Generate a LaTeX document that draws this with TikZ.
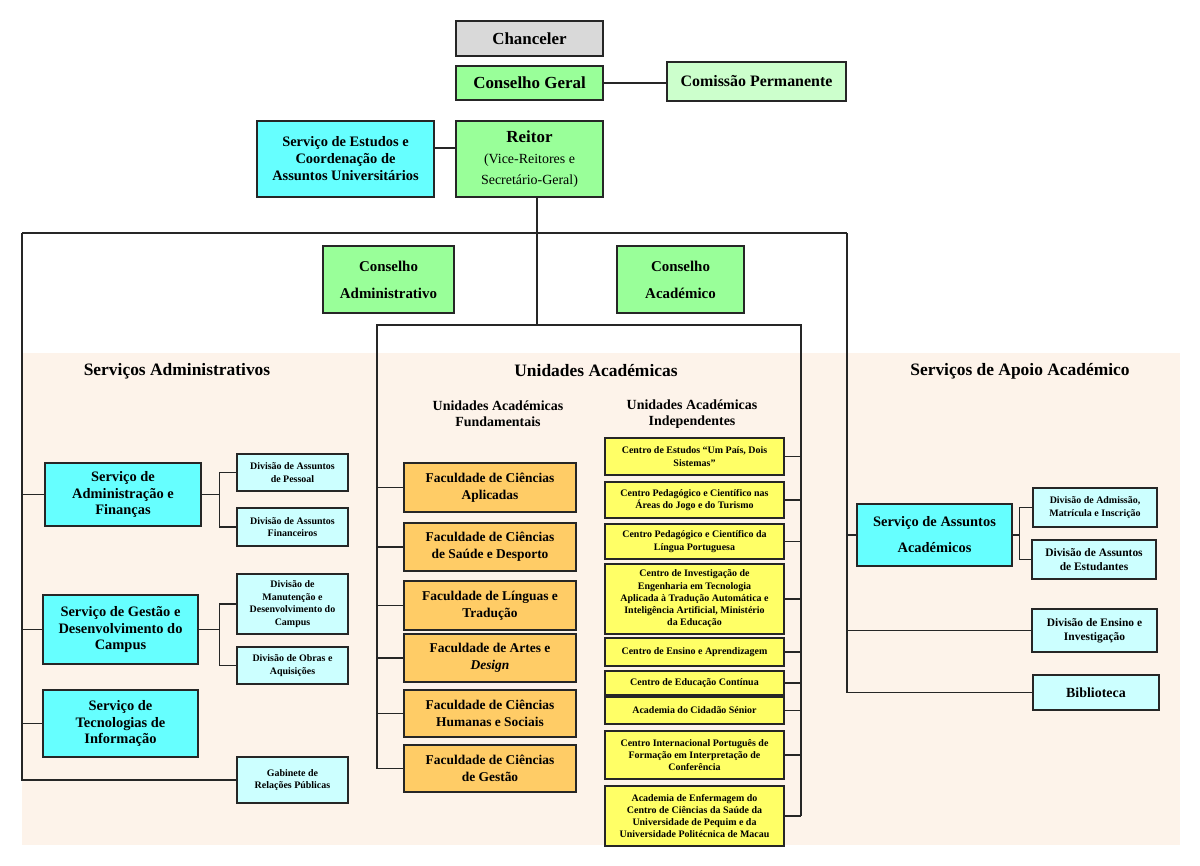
\documentclass[tikz,border=0pt]{standalone}
\usepackage{fontspec}
\setmainfont{Liberation Serif}

\definecolor{chancgray}{HTML}{D9D9D9}
\definecolor{govgreen}{HTML}{99FF99}
\definecolor{permgreen}{HTML}{CCFFCC}
\definecolor{svccyan}{HTML}{66FFFF}
\definecolor{divcyan}{HTML}{CCFFFF}
\definecolor{facorange}{HTML}{FFCC66}
\definecolor{ctryellow}{HTML}{FFFF66}
\definecolor{bgpeach}{HTML}{FDF3EA}

\tikzstyle{block} = [draw=black!85, rectangle, line width=1.5bp, align=center, inner sep=1bp]
\tikzstyle{gov} = [block, fill=govgreen, font=\bfseries\fontsize{17}{21}\selectfont]
\tikzstyle{svc} = [block, fill=svccyan, font=\bfseries\fontsize{14.5}{17}\selectfont]
\tikzstyle{div} = [block, fill=divcyan, font=\bfseries\fontsize{10}{12.5}\selectfont]
\tikzstyle{fac} = [block, fill=facorange, minimum width=172bp, font=\bfseries\fontsize{13.5}{17}\selectfont]
\tikzstyle{ctr} = [block, fill=ctryellow, minimum width=179bp, font=\bfseries\fontsize{10}{12.3}\selectfont]
\tikzstyle{title} = [align=center, font=\bfseries\fontsize{17.5}{21}\selectfont]
\tikzstyle{subtitle} = [align=center, font=\bfseries\fontsize{14}{16.5}\selectfont]
\tikzstyle{line} = [draw=black!85, line width=1.3bp]

\begin{document}
\begin{tikzpicture}[x=1bp, y=-1bp]
\useasboundingbox (0,0) rectangle (1200,866);
\fill [bgpeach] (22,353) rectangle (1180,845);

% top of the chart
\node [gov, fill=chancgray, minimum width=147bp, minimum height=35bp, name=chanc] at (529.5,38.5) {Chanceler};
\node [gov, minimum width=147bp, minimum height=34bp, name=cgeral] at (529.5,83) {Conselho Geral};
\node [gov, fill=permgreen, minimum width=179bp, minimum height=39bp, name=cperm,
  font=\bfseries\fontsize{16}{19}\selectfont] at (756.5,81.5) {Comissão Permanente};
\node [gov, minimum width=147bp, minimum height=76bp, name=reitor] at (529.5,159)
  {Reitor\\{\normalfont\fontsize{14}{21}\selectfont (Vice-Reitores e}\\{\normalfont\fontsize{14}{21}\selectfont Secretário-Geral)}};
\node [svc, minimum width=177bp, minimum height=76bp, name=sestudos] at (345.5,159)
  {Serviço de Estudos e\\Coordenação de\\Assuntos Universitários};
\node [gov, minimum width=131bp, minimum height=67bp, name=cadmin,
  font=\bfseries\fontsize{15}{27}\selectfont] at (388.5,279.5) {Conselho\\Administrativo};
\node [gov, minimum width=127bp, minimum height=67bp, name=cacad,
  font=\bfseries\fontsize{15}{27}\selectfont] at (680.5,279.5) {Conselho\\Académico};

\coordinate (rs) at (0,148);
\draw [line] (cgeral.east) -- (cgeral.east -| cperm.west);
\draw [line] (sestudos.east |- rs) -- (reitor.west |- rs);

% spine
\coordinate (tl) at (22,233);
\coordinate (tr) at (847,233);
\coordinate (ul) at (377,325);
\coordinate (ua) at (537,325);
\coordinate (ur) at (801,325);
\draw [line] (tl) -- (tr);
\draw [line] (reitor.south -| ua) -- (ua);

% section titles
\node [title, name=tadm] at (177,371) {Serviços Administrativos};
\node [title, name=tuni] at (596,371) {Unidades Académicas};
\node [title, name=tapo] at (1020,371) {Serviços de Apoio Académico};
\node [subtitle, name=tfun] at (498,414) {Unidades Académicas\\Fundamentais};
\node [subtitle, name=tind] at (692,414) {Unidades Académicas\\Independentes};

% Servicos Administrativos
\node [svc, minimum width=156bp, minimum height=63bp, name=saf] at (123,494.5) {Serviço de\\Administração e\\Finanças};
\node [div, minimum width=111bp, minimum height=37bp, name=dap] at (292.5,472.5) {Divisão de Assuntos\\de Pessoal};
\node [div, minimum width=111bp, minimum height=38bp, name=daf] at (292.5,527) {Divisão de Assuntos\\Financeiros};
\node [svc, minimum width=155bp, minimum height=69bp, name=sgdc] at (120.5,629.5) {Serviço de Gestão e\\Desenvolvimento do\\Campus};
\node [div, minimum width=111bp, minimum height=60bp, name=dmdc] at (292.5,604) {Divisão de\\Manutenção e\\Desenvolvimento do\\Campus};
\node [div, minimum width=111bp, minimum height=37bp, name=doa] at (292.5,665.5) {Divisão de Obras e\\Aquisições};
\node [svc, minimum width=155bp, minimum height=67bp, name=sti] at (120.5,723.5) {Serviço de\\Tecnologias de\\Informação};
\node [div, minimum width=111bp, minimum height=46bp, name=grp] at (292.5,780) {Gabinete de\\Relações Públicas};

\draw [line] (tl) |- (grp.west);
\foreach \s in {saf,sgdc,sti}
  \draw [line] (\s.west -| tl) -- (\s.west);
\coordinate (kaf) at ([xshift=18bp]saf.east);
\coordinate (kgd) at ([xshift=21bp]sgdc.east);
\draw [line] (saf.east) -- (kaf);
\draw [line] (dap.west) -| (kaf) |- (daf.west);
\draw [line] (sgdc.east) -- (kgd);
\draw [line] (dmdc.west) -| (kgd) |- (doa.west);

% Unidades Academicas
\node [fac, minimum height=49bp, name=fca] at (490,487.5) {Faculdade de Ciências\\Aplicadas};
\node [fac, minimum height=48bp, name=fcsd] at (490,547) {Faculdade de Ciências\\de Saúde e Desporto};
\node [fac, minimum height=49bp, name=flt] at (490,605.5) {Faculdade de Línguas e\\Tradução};
\node [fac, minimum height=48bp, name=fad] at (490,658) {Faculdade de Artes e\\\textit{Design}};
\node [fac, minimum height=47bp, name=fchs] at (490,713.5) {Faculdade de Ciências\\Humanas e Sociais};
\node [fac, minimum height=47bp, name=fcg] at (490,768.5) {Faculdade de Ciências\\de Gestão};

\node [ctr, minimum height=37bp, name=c1] at (694.5,456.5) {Centro de Estudos “Um País, Dois\\Sistemas”};
\node [ctr, minimum height=36bp, name=c2] at (694.5,500) {Centro Pedagógico e Científico nas\\Áreas do Jogo e do Turismo};
\node [ctr, minimum height=35bp, name=c3] at (694.5,541.5) {Centro Pedagógico e Científico da\\Língua Portuguesa};
\node [ctr, minimum height=70bp, name=c4] at (694.5,599) {Centro de Investigação de\\Engenharia em Tecnologia\\Aplicada à Tradução Automática e\\Inteligência Artificial, Ministério\\da Educação};
\node [ctr, minimum height=28bp, name=c5] at (694.5,652) {Centro de Ensino e Aprendizagem};
\node [ctr, minimum height=24bp, name=c6] at (694.5,683) {Centro de Educação Contínua};
\node [ctr, minimum height=27bp, name=c7] at (694.5,710.5) {Academia do Cidadão Sénior};
\node [ctr, minimum height=48bp, name=c8] at (694.5,755) {Centro Internacional Português de\\Formação em Interpretação de\\Conferência};
\node [ctr, minimum height=60bp, name=c9] at (694.5,816) {Academia de Enfermagem do\\Centro de Ciências da Saúde da\\Universidade de Pequim e da\\Universidade Politécnica de Macau};

\draw [line] (fcg.west -| ul) -- (ul) -- (ur) -- (ur |- c9.east);
\foreach \f in {fca,fcsd,flt,fad,fchs,fcg}
  \draw [line] (\f.west -| ul) -- (\f.west);
\foreach \c in {c1,c2,c3,c4,c5,c6,c7,c8,c9}
  \draw [line] (\c.east) -- (\c.east -| ur);

% Servicos de Apoio Academico
\node [svc, minimum width=155bp, minimum height=62bp, name=saa,
  font=\bfseries\fontsize{14.5}{26}\selectfont] at (934.5,535) {Serviço de Assuntos\\Académicos};
\node [div, minimum width=124bp, minimum height=39bp, name=dami] at (1095,507.5) {Divisão de Admissão,\\Matrícula e Inscrição};
\node [div, minimum width=124bp, minimum height=39bp, name=dae,
  font=\bfseries\fontsize{11.5}{14}\selectfont] at (1094,559.5) {Divisão de Assuntos\\de Estudantes};
\node [div, minimum width=125bp, minimum height=43bp, name=dei,
  font=\bfseries\fontsize{11.5}{14}\selectfont] at (1094.5,630.5) {Divisão de Ensino e\\Investigação};
\node [div, minimum width=126bp, minimum height=35bp, name=bib,
  font=\bfseries\fontsize{14}{17}\selectfont] at (1096,692.5) {Biblioteca};

\draw [line] (tr) |- (bib.west);
\foreach \s in {saa,dei}
  \draw [line] (\s.west -| tr) -- (\s.west);
\coordinate (ksa) at ([xshift=7bp]saa.east);
\draw [line] (saa.east) -- (ksa);
\draw [line] (dami.west) -| (ksa) |- (dae.west);

\end{tikzpicture}
\end{document}
